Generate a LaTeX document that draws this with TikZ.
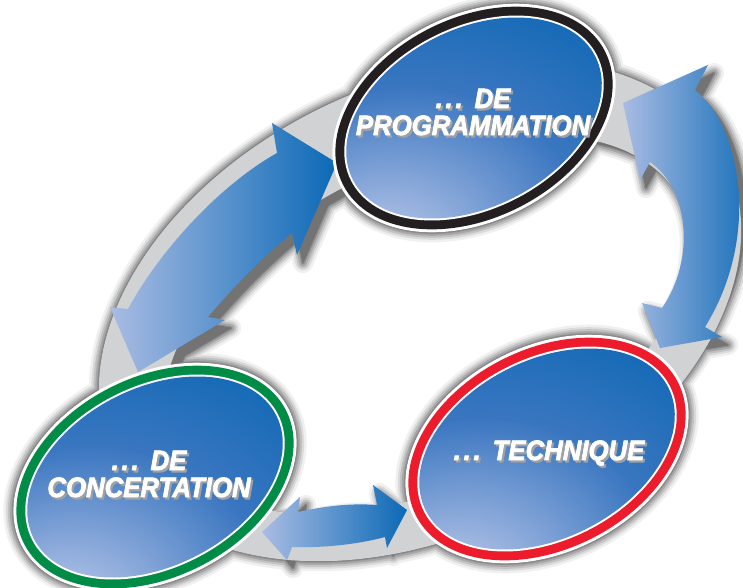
\documentclass[tikz,border=0pt]{standalone}
\usepackage{fontspec}
\setmainfont{Liberation Sans}
\newfontfamily\heavyfont{Liberation Sans}[BoldItalicFeatures={FakeBold=2.8}]
\usepackage{graphicx}
\definecolor{bandgray}{HTML}{D0D2D3}
\definecolor{arrlight}{HTML}{A9BCE3}
\definecolor{arrdark}{HTML}{0B69B6}
\definecolor{nodedark}{HTML}{0B67B4}
\definecolor{nodemid}{HTML}{3A76C0}
\definecolor{nodespot}{HTML}{B0C1E6}
\definecolor{ringblack}{HTML}{231F20}
\definecolor{ringgreen}{HTML}{008C47}
\definecolor{ringred}{HTML}{EC1C2D}
\definecolor{txtshadow}{HTML}{9FA1A4}
\pgfdeclareradialshading{nodeshade}{\pgfpoint{-18bp}{-34bp}}{%
  color(0bp)=(nodespot); color(10bp)=(nodespot!85!nodemid); color(30bp)=(nodemid);
  color(50bp)=(nodedark); color(85bp)=(nodedark)}
\newcommand{\lblfont}{\heavyfont\fontsize{28}{28}\selectfont\bfseries\itshape}
\newcommand{\ddd}{.\kern3pt.\kern3pt.\hspace{13pt}}
\tikzset{
  lbl/.style={anchor=base, text=white, font=\lblfont, inner sep=0pt},
  lblshadow/.style={lbl, text=txtshadow, xshift=2pt, yshift=-2.2pt},
  arrowfill/.style={left color=arrlight, right color=arrdark, draw=none},
}
% paths
\def\arrowApath{(337,163) -- (297,255) -- (292,233) .. controls (265,255) and (235,285) .. (208,317) -- (225,320) -- (138,372) -- (110,307) -- (128,309) .. controls (160,250) and (220,185) .. (277,153) -- (272,123) -- cycle}
\def\arrowBpath{(623,103) -- (708,65) -- (695,90) .. controls (740,125) and (762,235) .. (705,327) -- (722,337) -- (660,348) -- (642,303) -- (662,308) .. controls (695,260) and (690,190) .. (650,162) -- (640,180) -- cycle}
\def\arrowCpath{(262,532) -- (300,497) -- (298,512) .. controls (325,506) and (350,503) .. (377,505) -- (373,485) -- (407,510) -- (387,548) -- (385,537) .. controls (355,545) and (320,548) .. (292,547) -- (287,560) -- cycle}
\newcommand{\bubble}[2]{%
  \fill[white, rotate around={27:(#1)}] (#1) ellipse [x radius=150, y radius=103];
  \fill[#2, rotate around={27:(#1)}] (#1) ellipse [x radius=147, y radius=100];
  \fill[white, rotate around={27:(#1)}] (#1) ellipse [x radius=138, y radius=91];
  \shade[shading=nodeshade, rotate around={27:(#1)}] (#1) ellipse [x radius=136, y radius=89];}
\newcommand{\shtext}[4]{%
  \node[lblshadow] (#1s) at (#2) {\scalebox{#3}[1]{#4}};
  \node[lbl] (#1) at (#2) {\scalebox{#3}[1]{#4}};}
\begin{document}
\begin{tikzpicture}[x=1pt, y=-1pt]
\useasboundingbox (0,0) rectangle (743,587);
\clip (0,0) rectangle (743,587);
\fill[white] (0,0) rectangle (743,587);
\coordinate (pc) at (474,118);
\coordinate (cc) at (155,477);
\coordinate (tc) at (547,449);
\coordinate (ringc) at (420,310);
% soft shadows
\foreach \w/\c in {20/6, 15/14, 11/24, 7/35, 3/46, 0.5/55} {
  \begin{scope}[shift={(6,8)}]
    \filldraw[black!\c, line width=\w, line join=round, even odd rule, rotate around={26:(ringc)}]
      (ringc) ellipse [x radius=340, y radius=225] (420,326) ellipse [x radius=282, y radius=160];
    \filldraw[black!\c, line width=\w, line join=round] \arrowApath;
    \filldraw[black!\c, line width=\w, line join=round] \arrowBpath;
    \filldraw[black!\c, line width=\w, line join=round] \arrowCpath;
    \filldraw[black!\c, line width=\w, rotate around={27:(pc)}] (pc) ellipse [x radius=150, y radius=103];
    \filldraw[black!\c, line width=\w, rotate around={27:(cc)}] (cc) ellipse [x radius=150, y radius=103];
    \filldraw[black!\c, line width=\w, rotate around={27:(tc)}] (tc) ellipse [x radius=150, y radius=103];
  \end{scope}
}
% grey ring
\fill[bandgray, even odd rule, rotate around={26:(ringc)}]
  (ringc) ellipse [x radius=340, y radius=225] (420,326) ellipse [x radius=282, y radius=160];
% arrows
\shade[arrowfill] \arrowApath;
\shade[arrowfill] \arrowBpath;
\shade[arrowfill] \arrowCpath;
% bubbles
\bubble{pc}{ringblack}
\bubble{cc}{ringgreen}
\bubble{tc}{ringred}
% labels
\shtext{progde}{473,108}{0.92}{\ddd DE}
\shtext{prog}{473,135}{0.92}{PROGRAMMATION}
\shtext{concde}{149,470}{0.92}{\ddd DE}
\shtext{conc}{149,497}{0.92}{CONCERTATION}
\shtext{tech}{549,460}{0.92}{\ddd TECHNIQUE}
\end{tikzpicture}
\end{document}
